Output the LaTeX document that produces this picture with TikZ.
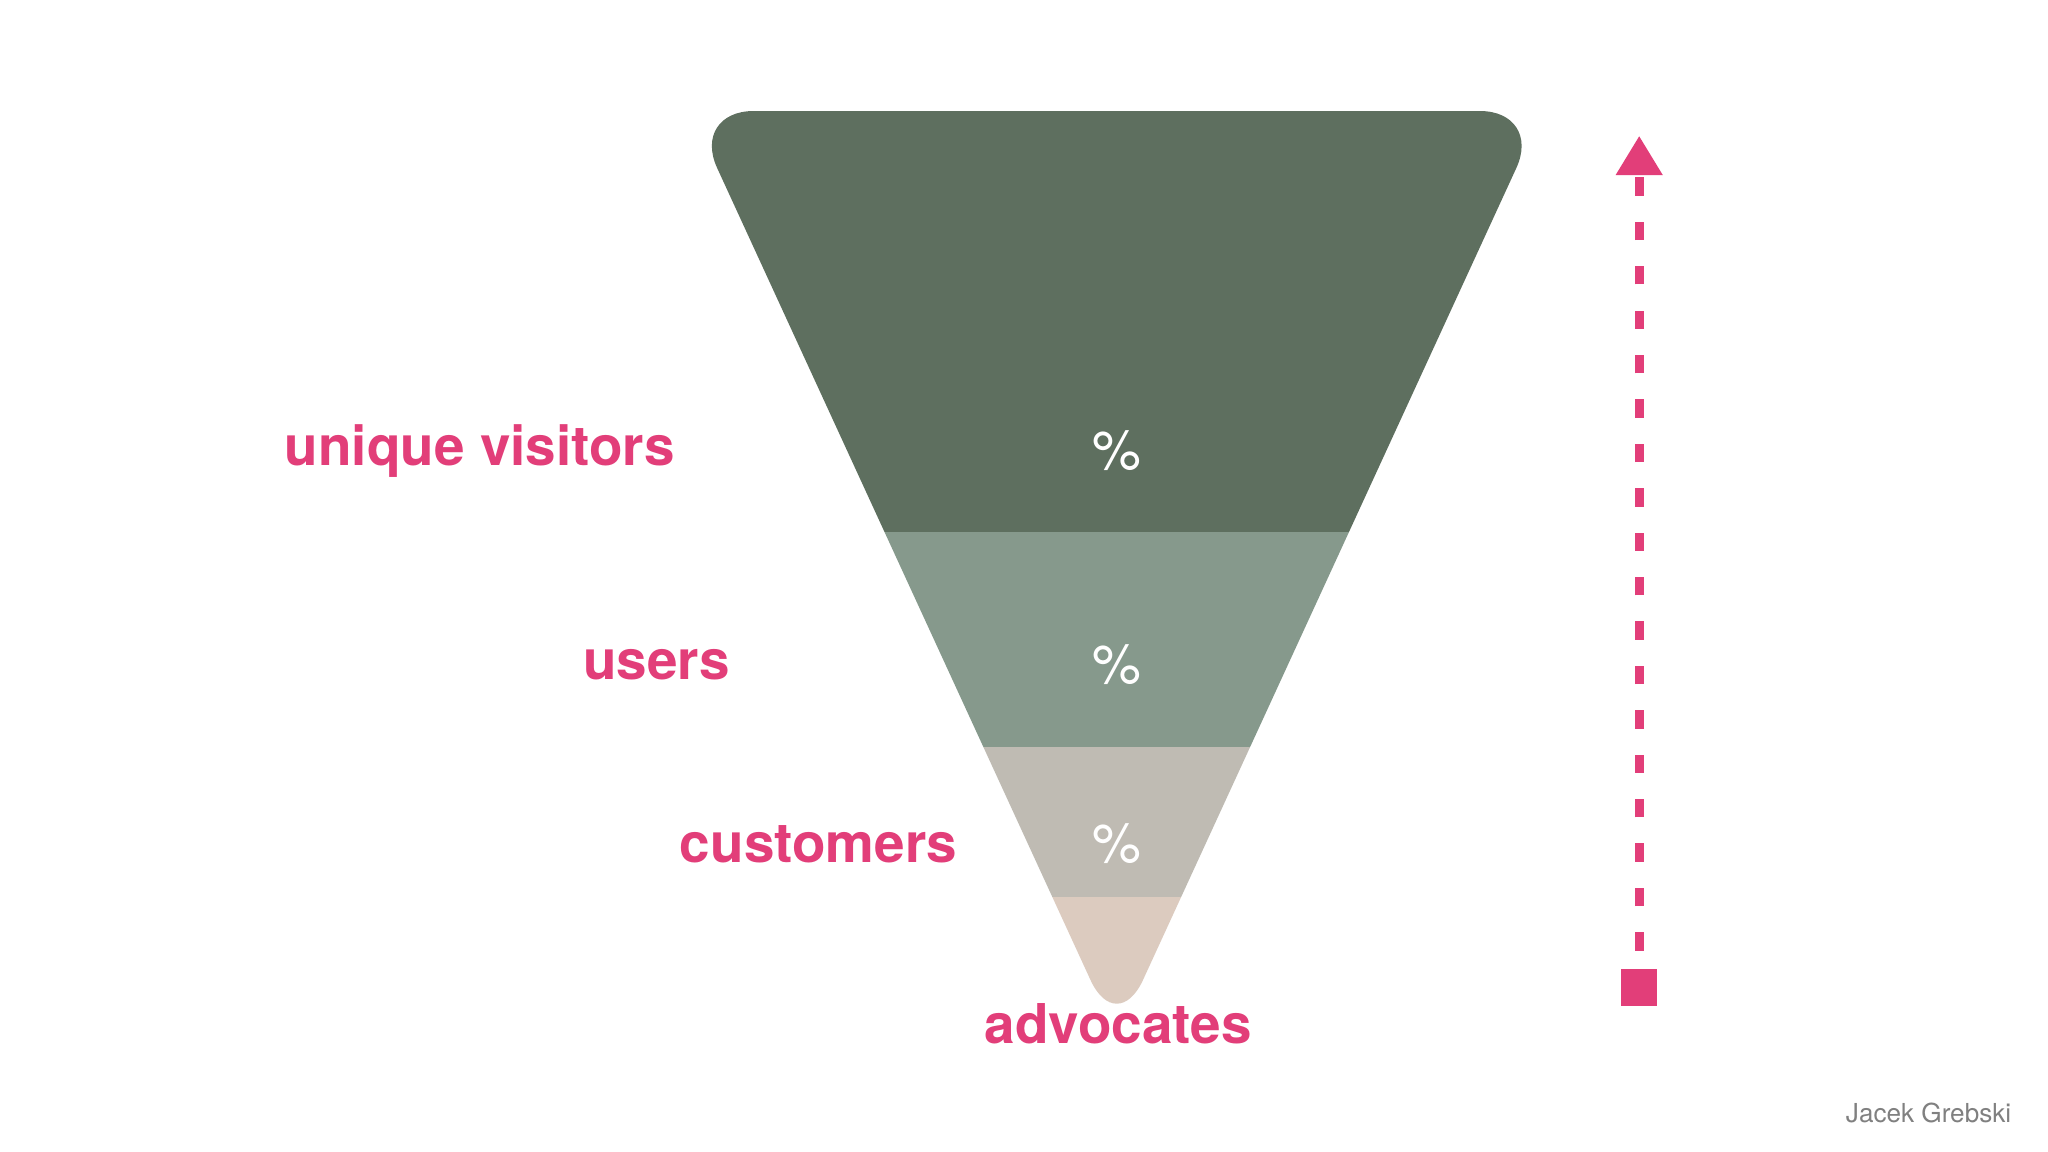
\documentclass[tikz,border=0pt]{standalone}
\usepackage{fontspec}
\setmainfont{TeX Gyre Heros}
\usetikzlibrary{arrows.meta}
\definecolor{pinkc}{HTML}{E23E79}
\definecolor{bandA}{HTML}{5E6F5F}
\definecolor{bandB}{HTML}{86998C}
\definecolor{bandC}{HTML}{BFBBB3}
\definecolor{bandD}{HTML}{DCCBBF}
\tikzset{lbl/.style={text=pinkc,font=\fontsize{42}{42}\selectfont\bfseries,inner sep=0pt},
 pct/.style={text=white,font=\fontsize{42}{42}\selectfont,inner sep=0pt}}
\begin{document}
\begin{tikzpicture}[x=1pt,y=-1pt]
\useasboundingbox[fill=white] (0,0) rectangle (1568,882);
\begin{scope}
\clip[rounded corners=48pt] (529,85) -- (1181,85) -- (855,794) -- cycle;
\fill[bandA] (500,60) rectangle (1200,407);
\fill[bandB] (500,407) rectangle (1200,572);
\fill[bandC] (500,572) rectangle (1200,687);
\fill[bandD] (500,687) rectangle (1200,800);
\end{scope}
\node[pct] (p1) at (855,345) {\%};
\node[pct] (p2) at (855,509) {\%};
\node[pct] (p3) at (855,646) {\%};
\node[lbl,anchor=east] (l1) at (517,345) {unique visitors};
\node[lbl,anchor=east] (l2) at (559,509) {users};
\node[lbl,anchor=east] (l3) at (733,646) {customers};
\node[lbl] (l4) at (856,784) {advocates};
\node[fill=pinkc,minimum size=28pt,inner sep=0pt] (sq) at (1255,756) {};
\coordinate (top) at (1255,104);
\draw[pinkc,line width=7pt,dash pattern=on 14pt off 20pt,-{Triangle[length=30pt,width=34pt]}] (sq.north)++(0,-14) -- (top);
\node[text=gray,font=\fontsize{20}{20}\selectfont,anchor=east,inner sep=0pt] (sig) at (1540,852) {Jacek Grebski};
\end{tikzpicture}
\end{document}
